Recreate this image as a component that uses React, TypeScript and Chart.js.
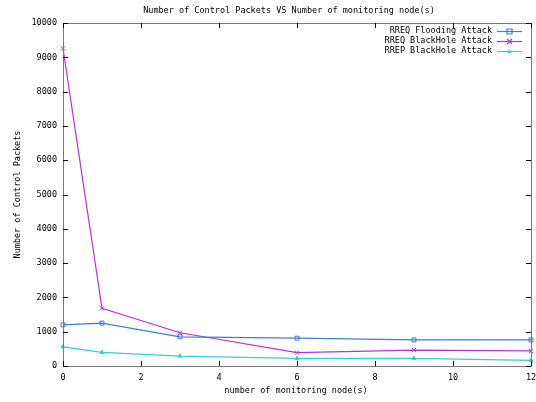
import React, { useEffect, useRef } from "react";
import { Chart, registerables } from "chart.js";

Chart.register(...registerables);

const xValues = [0, 1, 3, 6, 9, 12];
const floodingValues = [1200, 1250, 850, 810, 760, 760];
const rreqBlackHoleValues = [9260, 1680, 970, 390, 465, 440];
const rrepBlackHoleValues = [560, 400, 290, 225, 225, 165];
const seriesLabels = ["RREQ Flooding Attack", "RREQ BlackHole Attack", "RREP BlackHole Attack"];
const seriesColors = ["#3b7fd6", "#b335d3", "#33d0d3"];
const xTicks = [0, 2, 4, 6, 8, 10, 12];
const yTicks = [0, 1000, 2000, 3000, 4000, 5000, 6000, 7000, 8000, 9000, 10000];
const chartTitle = "Number of Control Packets VS Number of monitoring node(s)";
const xTitle = "number of monitoring node(s)";
const yTitle = "Number of Control Packets";

const FONT = "DejaVu Sans Mono";
const FS = 8.5;

const decorPlugin = {
  id: "decor",
  afterDraw(chart: any) {
    const ctx = chart.ctx;
    const a = chart.chartArea;
    const xs = chart.scales.x;
    const ys = chart.scales.y;
    ctx.save();
    // border
    ctx.strokeStyle = "#7a7a7a";
    ctx.lineWidth = 1;
    ctx.strokeRect(Math.round(a.left) + 0.5, Math.round(a.top) + 0.5, Math.round(a.right - a.left), Math.round(a.bottom - a.top));
    // ticks inward, mirrored
    ctx.strokeStyle = "#000";
    ctx.beginPath();
    xTicks.forEach((t) => {
      const px = Math.round(xs.getPixelForValue(t)) + 0.5;
      ctx.moveTo(px, a.bottom);
      ctx.lineTo(px, a.bottom - 5);
      ctx.moveTo(px, a.top);
      ctx.lineTo(px, a.top + 5);
    });
    yTicks.forEach((t) => {
      const py = Math.round(ys.getPixelForValue(t)) + 0.5;
      ctx.moveTo(a.left, py);
      ctx.lineTo(a.left + 5, py);
      ctx.moveTo(a.right, py);
      ctx.lineTo(a.right - 5, py);
    });
    ctx.stroke();
    // titles
    ctx.fillStyle = "#000";
    ctx.font = `${FS}px '${FONT}'`;
    ctx.textAlign = "center";
    ctx.textBaseline = "middle";
    ctx.fillText(chartTitle, 289, 11);
    ctx.fillText(xTitle, (a.left + a.right) / 2 - 1, 391);
    ctx.save();
    ctx.translate(18, (a.top + a.bottom) / 2);
    ctx.rotate(-Math.PI / 2);
    ctx.fillText(yTitle, 0, 0);
    ctx.restore();
    // legend
    chart.data.datasets.forEach((ds: any, i: number) => {
      const y = 30.5 + i * 10.3;
      ctx.fillStyle = "#000";
      ctx.textAlign = "right";
      ctx.fillText(ds.label, 492, y);
      ctx.strokeStyle = ds.borderColor;
      ctx.lineWidth = 1.2;
      ctx.beginPath();
      ctx.moveTo(497, Math.round(y) + 0.5);
      ctx.lineTo(522, Math.round(y) + 0.5);
      ctx.stroke();
      const cx = 509.5;
      const cy = Math.round(y) + 0.5;
      ctx.beginPath();
      if (i === 0) {
        ctx.rect(cx - 2.5, cy - 2.5, 5, 5);
        ctx.stroke();
      } else if (i === 1) {
        ctx.moveTo(cx - 2.5, cy - 2.5);
        ctx.lineTo(cx + 2.5, cy + 2.5);
        ctx.moveTo(cx + 2.5, cy - 2.5);
        ctx.lineTo(cx - 2.5, cy + 2.5);
        ctx.stroke();
      } else {
        ctx.fillStyle = ds.borderColor;
        ctx.moveTo(cx, cy - 2);
        ctx.lineTo(cx + 2, cy + 1.5);
        ctx.lineTo(cx - 2, cy + 1.5);
        ctx.closePath();
        ctx.fill();
      }
    });
    ctx.restore();
  },
};

export default function App() {
  const ref = useRef<HTMLCanvasElement>(null);
  useEffect(() => {
    document.body.style.margin = "0";
    const mk = (vals: number[]) => xValues.map((x, i) => ({ x, y: vals[i] }));
    const styles = [
      { pointStyle: "rect", pointRadius: 2.8 },
      { pointStyle: "crossRot", pointRadius: 3 },
      { pointStyle: "triangle", pointRadius: 2.2 },
    ];
    const all = [floodingValues, rreqBlackHoleValues, rrepBlackHoleValues];
    const chart = new Chart(ref.current!, {
      type: "line",
      data: {
        datasets: all.map((v, i) => ({
          label: seriesLabels[i],
          data: mk(v),
          borderColor: seriesColors[i],
          backgroundColor: i === 2 ? seriesColors[i] : "rgba(0,0,0,0)",
          pointBorderColor: seriesColors[i],
          pointBackgroundColor: i === 2 ? seriesColors[i] : "rgba(0,0,0,0)",
          borderWidth: 1.2,
          pointBorderWidth: 1,
          tension: 0,
          fill: false,
          ...styles[i],
        })) as any,
      },
      options: {
        animation: false,
        responsive: false,
        clip: false as any,
        layout: { padding: { top: 23, right: 5, left: 0, bottom: 0 } },
        plugins: {
          legend: { display: false },
          title: { display: false },
          tooltip: { enabled: false },
        },
        scales: {
          x: {
            type: "linear",
            min: 0,
            max: 12,
            afterBuildTicks: (s: any) => {
              s.ticks = xTicks.map((v) => ({ value: v }));
            },
            afterFit: (s: any) => {
              s.height = 36;
              s.paddingLeft = 0;
              s.paddingRight = 0;
            },
            grid: { display: false, drawTicks: false },
            border: { display: false },
            ticks: {
              color: "#000",
              padding: 7,
              maxRotation: 0,
              font: { family: FONT, size: FS },
              callback: (v: any) => String(v),
            },
          },
          y: {
            type: "linear",
            min: 0,
            max: 10000,
            afterBuildTicks: (s: any) => {
              s.ticks = yTicks.map((v) => ({ value: v }));
            },
            afterFit: (s: any) => {
              s.width = 63;
              s.paddingTop = 0;
              s.paddingBottom = 0;
            },
            grid: { display: false, drawTicks: false },
            border: { display: false },
            ticks: {
              color: "#000",
              padding: 6,
              font: { family: FONT, size: FS },
              callback: (v: any) => String(v),
            },
          },
        },
      },
      plugins: [decorPlugin],
    });
    return () => chart.destroy();
  }, []);
  return (
    <div style={{ position: "fixed", left: 0, top: 0, width: 536, height: 402, background: "#fff" }}>
      <canvas ref={ref} width={536} height={402} style={{ width: 536, height: 402 }} />
    </div>
  );
}
